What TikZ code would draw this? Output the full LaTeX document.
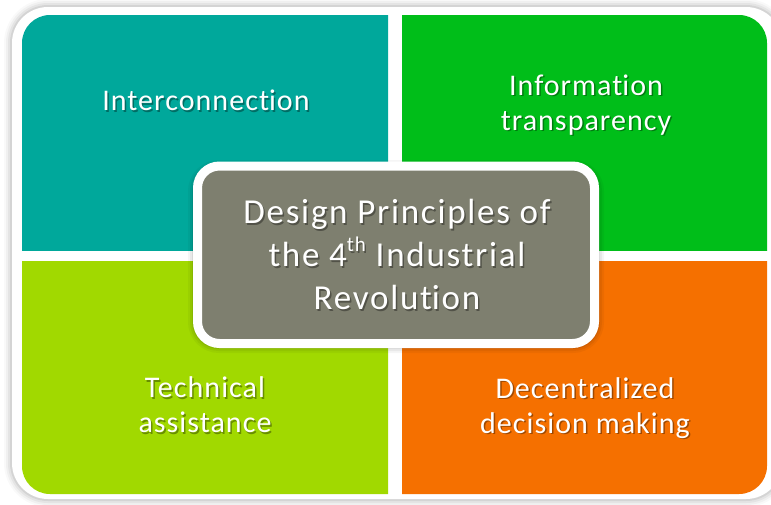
\documentclass[tikz,border=0pt]{standalone}
\usepackage{fontspec}
\setmainfont{Carlito}[LetterSpace=3.5, Ligatures=CommonOff]
\newfontfamily\corefont{Carlito}[LetterSpace=5, Ligatures=CommonOff]
\newcommand{\tisep}{t\kern0pt i}
\definecolor{qteal}{HTML}{00A89B}
\definecolor{qgreen}{HTML}{00BE19}
\definecolor{qlime}{HTML}{A1D900}
\definecolor{qorange}{HTML}{F57000}
\definecolor{coregray}{HTML}{7E7F6F}
\begin{document}
\begin{tikzpicture}[x=1pt,y=-1pt,
  quadtext/.style={text=white, align=center, inner sep=0pt,
    font=\fontsize{30}{35}\selectfont},
  quadshade/.style={quadtext, text=black, text opacity=0.35},
  coretext/.style={text=white, align=center, inner sep=0pt,
    font=\corefont\fontsize{35}{43}\selectfont},
  coreshade/.style={coretext, text=black, text opacity=0.35},
  corebox/.style={draw=white, line width=9pt, fill=coregray,
    rounded corners=22pt}]
\useasboundingbox (0,0) rectangle (771,504);

% soft shadow and white frame behind the matrix
\foreach \w/\o in {16/0.025, 12/0.035, 8/0.05, 4/0.07}
  \draw[black, opacity=\o, line width=\w pt, rounded corners=36pt]
    (12,7) rectangle (782,499);
\fill[white, rounded corners=36pt] (12,7) rectangle (782,499);

% four quadrants, each rounded only at its outer corner
\begin{scope}
  \clip (22,15) rectangle (388,250);
  \fill[qteal, rounded corners=28pt] (22,15) rectangle (450,320);
\end{scope}
\begin{scope}
  \clip (402,15) rectangle (767,250);
  \fill[qgreen, rounded corners=28pt] (330,15) rectangle (767,320);
\end{scope}
\begin{scope}
  \clip (22,261) rectangle (388,494);
  \fill[qlime, rounded corners=28pt] (22,200) rectangle (450,494);
\end{scope}
\begin{scope}
  \clip (402,261) rectangle (767,494);
  \fill[qorange, rounded corners=28pt] (330,200) rectangle (767,494);
\end{scope}

% quadrant labels with a slight drop shadow
\node[quadshade] (tl-s) at (207.5,102) {Interconnec\tisep on};
\node[quadtext]  (tl)   at (206,100.5) {Interconnec\tisep on};
\node[quadshade] (tr-s) at (587.5,106.5) {Informa\tisep on\\transparency};
\node[quadtext]  (tr)   at (586,105) {Informa\tisep on\\transparency};
\node[quadshade] (bl-s) at (206.5,406.5) {Technical\\assistance};
\node[quadtext]  (bl)   at (205,405) {Technical\\assistance};
\node[quadshade] (br-s) at (586.5,409.5) {Decentralized\\decision making};
\node[quadtext]  (br)   at (585,408) {Decentralized\\decision making};

% central box
\foreach \w/\o in {14/0.04, 10/0.05, 6/0.07}
  \draw[black, opacity=\o, line width=\w pt, rounded corners=24pt]
    (195,167) rectangle (597,346);
\path[corebox] (197.5,166) rectangle (594.5,343.5);
\node[coreshade] (core-s) at (398.5,256)
  {Design Principles of\\the 4\raisebox{0.42em}{\fontsize{21}{21}\selectfont th} Industrial\\Revolu\tisep on};
\node[coretext] (core) at (397,254.5)
  {Design Principles of\\the 4\raisebox{0.42em}{\fontsize{21}{21}\selectfont th} Industrial\\Revolu\tisep on};
\end{tikzpicture}
\end{document}
